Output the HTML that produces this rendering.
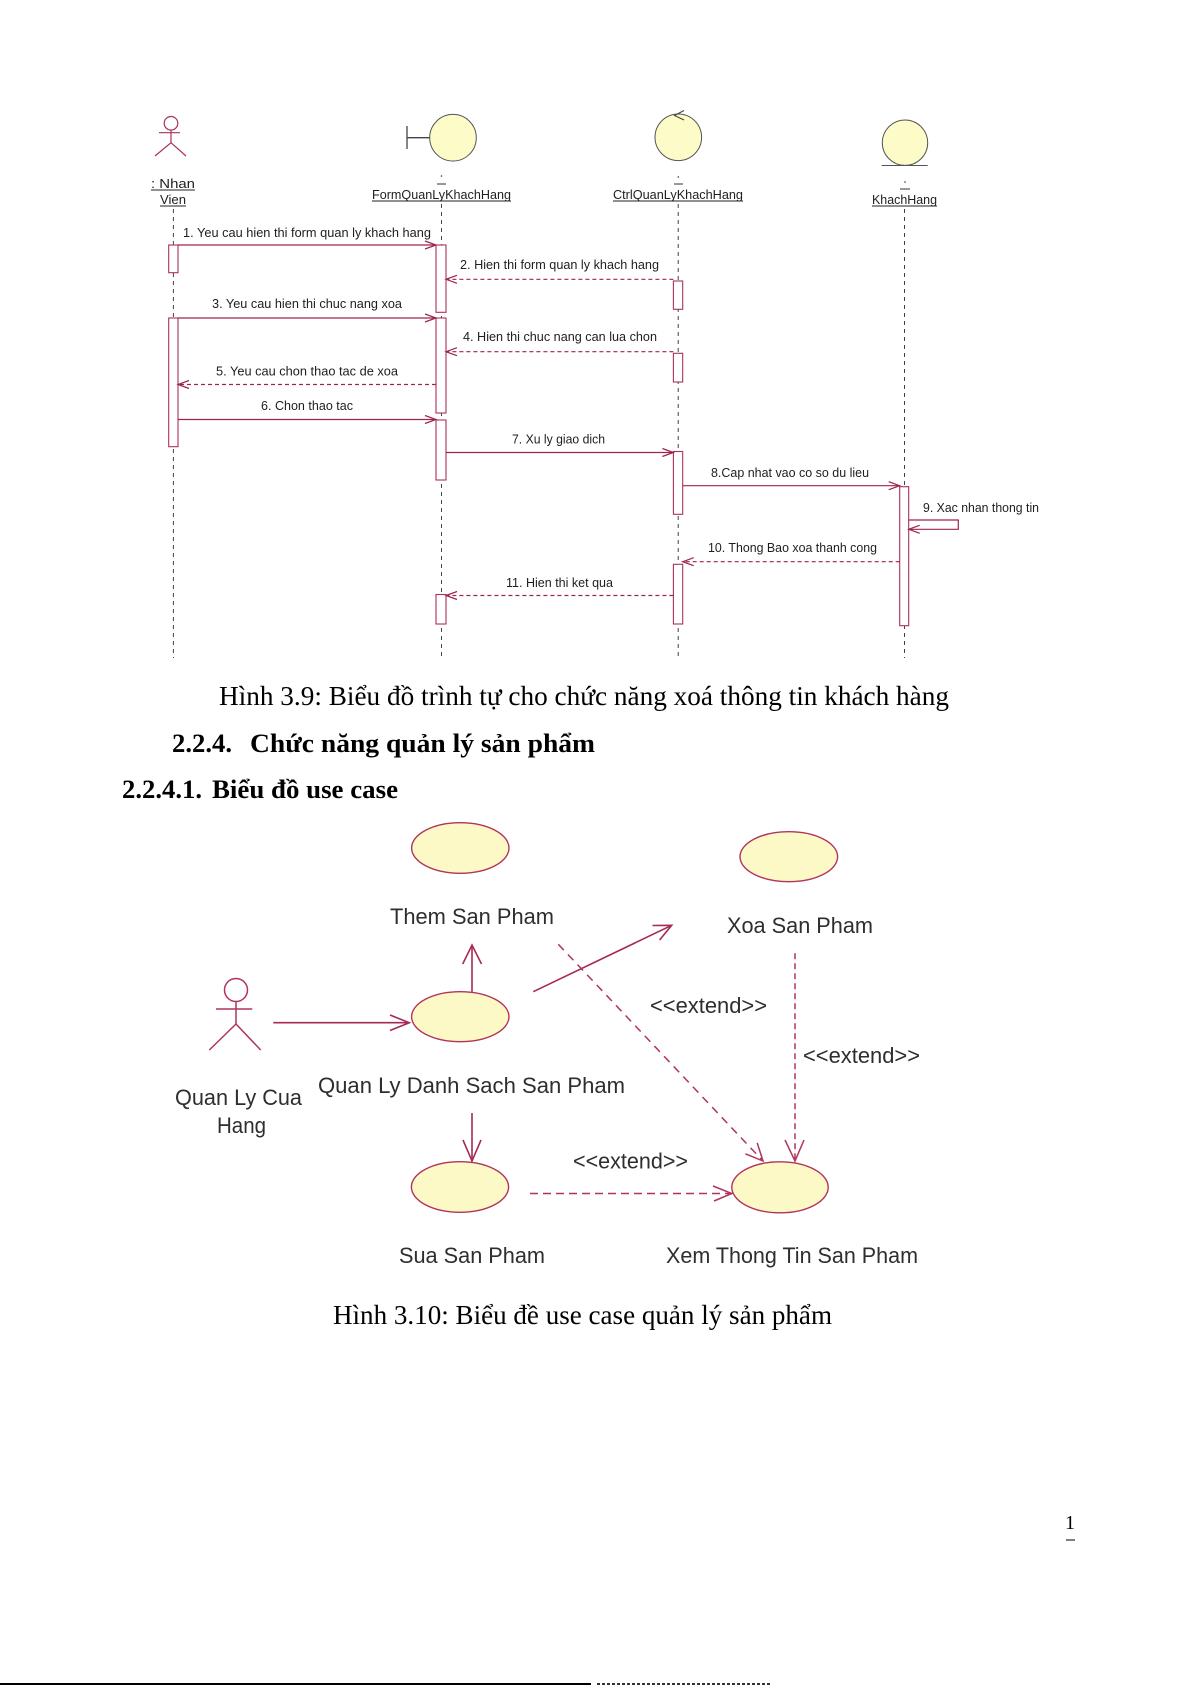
<!DOCTYPE html>
<html>
<head>
<meta charset="utf-8">
<style>
  html, body { margin: 0; padding: 0; background: #ffffff; }
  svg { display: block; }
  .seq { font-family: "Liberation Sans", Arial, sans-serif; font-size: 13px; fill: #1e1e1e; }
  .uc { font-family: "Liberation Sans", Arial, sans-serif; font-size: 22px; fill: #2e2e2e; }
  .serif { font-family: "Liberation Serif", "Times New Roman", serif; fill: #000; }
</style>
</head>
<body>
<svg width="1191" height="1685" viewBox="0 0 1191 1685" xmlns="http://www.w3.org/2000/svg">
  <rect x="0" y="0" width="1191" height="1685" fill="#ffffff"/>

  <!-- ================= SEQUENCE DIAGRAM ================= -->
  <!-- Actor icon -->
  <g stroke="#a8325a" stroke-width="1.2" fill="none">
    <circle cx="171" cy="123.3" r="6.8"/>
    <line x1="171" y1="130.1" x2="171" y2="142.7"/>
    <line x1="159" y1="132.7" x2="180" y2="132.7"/>
    <line x1="171" y1="142.7" x2="155" y2="156"/>
    <line x1="171" y1="142.7" x2="186" y2="156"/>
  </g>
  <text class="seq" x="151" y="188" textLength="44" lengthAdjust="spacingAndGlyphs">: Nhan</text>
  <line x1="151" y1="190" x2="195" y2="190" stroke="#222" stroke-width="1"/>
  <text class="seq" x="160" y="204" textLength="26" lengthAdjust="spacingAndGlyphs">Vien</text>
  <line x1="160" y1="206" x2="186" y2="206" stroke="#222" stroke-width="1"/>

  <!-- Boundary icon -->
  <g stroke="#444" stroke-width="1.3">
    <line x1="407" y1="126" x2="407" y2="149"/>
    <line x1="407" y1="137.7" x2="430" y2="137.7"/>
  </g>
  <circle cx="453" cy="137.7" r="23.3" fill="#fdfcc9" stroke="#555" stroke-width="1"/>
  <circle cx="441.5" cy="176" r="0.8" fill="#333"/>
  <line x1="437" y1="184" x2="446" y2="184" stroke="#333" stroke-width="1"/>
  <text class="seq" x="372" y="199" textLength="139" lengthAdjust="spacingAndGlyphs">FormQuanLyKhachHang</text>
  <line x1="372" y1="201" x2="511" y2="201" stroke="#222" stroke-width="1"/>

  <!-- Control icon -->
  <circle cx="678.3" cy="137.3" r="23.3" fill="#fdfcc9" stroke="#555" stroke-width="1"/>
  <polyline points="684,110.5 674.5,115.5 684,120" fill="none" stroke="#444" stroke-width="1.1"/>
  <circle cx="678.3" cy="177" r="0.8" fill="#333"/>
  <line x1="674" y1="184" x2="683" y2="184" stroke="#333" stroke-width="1"/>
  <text class="seq" x="613" y="199" textLength="130" lengthAdjust="spacingAndGlyphs">CtrlQuanLyKhachHang</text>
  <line x1="613" y1="201" x2="743" y2="201" stroke="#222" stroke-width="1"/>

  <!-- Entity icon -->
  <circle cx="905" cy="142.7" r="22.7" fill="#fdfcc9" stroke="#555" stroke-width="1"/>
  <line x1="881.7" y1="165.5" x2="927.7" y2="165.5" stroke="#555" stroke-width="1"/>
  <circle cx="905" cy="182" r="0.8" fill="#333"/>
  <line x1="900" y1="189" x2="910" y2="189" stroke="#333" stroke-width="1"/>
  <text class="seq" x="872" y="204" textLength="65" lengthAdjust="spacingAndGlyphs">KhachHang</text>
  <line x1="872" y1="206" x2="937" y2="206" stroke="#222" stroke-width="1"/>

  <!-- Lifelines -->
  <g stroke="#444" stroke-width="1" stroke-dasharray="4,4" fill="none">
    <line x1="173.4" y1="209" x2="173.4" y2="658"/>
    <line x1="441.5" y1="204" x2="441.5" y2="658"/>
    <line x1="678.2" y1="204" x2="678.2" y2="658"/>
    <line x1="904.5" y1="209" x2="904.5" y2="658"/>
  </g>

  <!-- Activations -->
  <g fill="#ffffff" stroke="#a8325a" stroke-width="1.1">
    <rect x="168.7" y="245" width="9.3" height="27.7"/>
    <rect x="168.7" y="318" width="9.3" height="128.7"/>
    <rect x="436" y="245" width="10" height="67.3"/>
    <rect x="436" y="318" width="10" height="95"/>
    <rect x="436" y="420" width="10" height="60"/>
    <rect x="436" y="594.5" width="10" height="29.5"/>
    <rect x="673.4" y="281" width="9.3" height="28.3"/>
    <rect x="673.4" y="353.3" width="9.3" height="28.7"/>
    <rect x="673.4" y="451.5" width="9.3" height="62.8"/>
    <rect x="673.4" y="564.3" width="9.3" height="59.7"/>
    <rect x="899.7" y="486.7" width="9" height="139"/>
  </g>

  <!-- Messages -->
  <g stroke="#9e2451" stroke-width="1.2" fill="none">
    <line x1="178" y1="245" x2="436" y2="245"/>
    <polyline points="425,241 436,245 425,249"/>
    <line x1="673.4" y1="279.3" x2="446" y2="279.3" stroke-dasharray="4,3"/>
    <polyline points="457,275.3 446,279.3 457,283.3"/>
    <line x1="178" y1="318" x2="436" y2="318"/>
    <polyline points="425,314 436,318 425,322"/>
    <line x1="673.4" y1="351.7" x2="446" y2="351.7" stroke-dasharray="4,3"/>
    <polyline points="457,347.7 446,351.7 457,355.7"/>
    <line x1="436" y1="384.5" x2="178" y2="384.5" stroke-dasharray="4,3"/>
    <polyline points="189,380.5 178,384.5 189,388.5"/>
    <line x1="178" y1="419.5" x2="436" y2="419.5"/>
    <polyline points="425,415.5 436,419.5 425,423.5"/>
    <line x1="446" y1="452.5" x2="673.4" y2="452.5"/>
    <polyline points="662.4,448.5 673.4,452.5 662.4,456.5"/>
    <line x1="682.7" y1="485.7" x2="899.7" y2="485.7"/>
    <polyline points="888.7,481.7 899.7,485.7 888.7,489.7"/>
    <polyline points="908.7,520 958.3,520 958.3,529.3 908.7,529.3"/>
    <polyline points="919.7,525.3 908.7,529.3 919.7,533.3"/>
    <line x1="899.7" y1="561.7" x2="682.7" y2="561.7" stroke-dasharray="4,3"/>
    <polyline points="693.7,557.7 682.7,561.7 693.7,565.7"/>
    <line x1="673.4" y1="595.5" x2="446" y2="595.5" stroke-dasharray="4,3"/>
    <polyline points="457,591.5 446,595.5 457,599.5"/>
  </g>

  <!-- Message labels -->
  <text class="seq" x="183" y="237" textLength="248" lengthAdjust="spacingAndGlyphs">1. Yeu cau hien thi form quan ly khach hang</text>
  <text class="seq" x="460" y="269" textLength="199" lengthAdjust="spacingAndGlyphs">2. Hien thi form quan ly khach hang</text>
  <text class="seq" x="212" y="308" textLength="190" lengthAdjust="spacingAndGlyphs">3. Yeu cau hien thi chuc nang xoa</text>
  <text class="seq" x="463" y="341" textLength="194" lengthAdjust="spacingAndGlyphs">4. Hien thi chuc nang can lua chon</text>
  <text class="seq" x="216" y="375.5" textLength="182" lengthAdjust="spacingAndGlyphs">5. Yeu cau chon thao tac de xoa</text>
  <text class="seq" x="261" y="410" textLength="92" lengthAdjust="spacingAndGlyphs">6. Chon thao tac</text>
  <text class="seq" x="512" y="443.5" textLength="93" lengthAdjust="spacingAndGlyphs">7. Xu ly giao dich</text>
  <text class="seq" x="711" y="477" textLength="158" lengthAdjust="spacingAndGlyphs">8.Cap nhat vao co so du lieu</text>
  <text class="seq" x="923" y="512" textLength="116" lengthAdjust="spacingAndGlyphs">9. Xac nhan thong tin</text>
  <text class="seq" x="708" y="552" textLength="169" lengthAdjust="spacingAndGlyphs">10. Thong Bao xoa thanh cong</text>
  <text class="seq" x="506" y="587" textLength="107" lengthAdjust="spacingAndGlyphs">11. Hien thi ket qua</text>

  <!-- ================= CAPTION & HEADINGS ================= -->
  <text class="serif" x="219" y="705" font-size="27" textLength="730" lengthAdjust="spacingAndGlyphs">Hình 3.9: Biểu đồ trình tự cho chức năng xoá thông tin khách hàng</text>
  <text class="serif" x="172" y="752" font-size="26" font-weight="bold" textLength="60" lengthAdjust="spacingAndGlyphs">2.2.4.</text>
  <text class="serif" x="250" y="752" font-size="26" font-weight="bold" textLength="345" lengthAdjust="spacingAndGlyphs">Chức năng quản lý sản phẩm</text>
  <text class="serif" x="122" y="798" font-size="26" font-weight="bold" textLength="80" lengthAdjust="spacingAndGlyphs">2.2.4.1.</text>
  <text class="serif" x="212" y="798" font-size="26" font-weight="bold" textLength="186" lengthAdjust="spacingAndGlyphs">Biểu đồ use case</text>

  <!-- ================= USE CASE DIAGRAM ================= -->
  <g fill="#fdf9c6" stroke="#b0345c" stroke-width="1.4">
    <ellipse cx="460.3" cy="848" rx="48.7" ry="25.3"/>
    <ellipse cx="460.3" cy="1016.7" rx="48.7" ry="25"/>
    <ellipse cx="788.8" cy="856.7" rx="48.8" ry="25"/>
    <ellipse cx="460" cy="1187" rx="48.6" ry="25.3"/>
    <ellipse cx="780" cy="1187.3" rx="48.2" ry="25.5"/>
  </g>

  <!-- Actor -->
  <g stroke="#b0345c" stroke-width="1.5" fill="none">
    <circle cx="236" cy="990" r="11.5"/>
    <line x1="236" y1="1001.5" x2="236" y2="1024"/>
    <line x1="216" y1="1009" x2="252.3" y2="1009"/>
    <line x1="236" y1="1024" x2="209.3" y2="1050"/>
    <line x1="236" y1="1024" x2="260.7" y2="1050"/>
  </g>

  <!-- Connectors -->
  <g stroke="#a52a55" stroke-width="1.6" fill="none">
    <line x1="273.3" y1="1022.7" x2="409.3" y2="1022.7"/>
    <polyline points="390,1015 409.3,1022.7 390,1030.5"/>
    <line x1="472" y1="991.7" x2="472" y2="945"/>
    <polyline points="462.7,964 472,945 481.5,964"/>
    <line x1="533.3" y1="991.7" x2="671.7" y2="925.3"/>
    <polyline points="652.5,925.5 671.7,925.3 659.6,940"/>
    <line x1="472" y1="1113" x2="472" y2="1161"/>
    <polyline points="463,1140 472,1161 481,1140"/>
  </g>
  <g stroke="#b0345c" stroke-width="1.5" fill="none">
    <line x1="558.3" y1="944.3" x2="763" y2="1161" stroke-dasharray="8,6"/>
    <polyline points="757.2,1142.9 763,1161 745.4,1153.8"/>
    <line x1="795" y1="953.3" x2="795" y2="1161" stroke-dasharray="6,4"/>
    <polyline points="785,1140 795,1161 804,1140"/>
    <line x1="530" y1="1193.5" x2="731.8" y2="1193.5" stroke-dasharray="8,5"/>
    <polyline points="713,1186 731.8,1193.5 714,1201"/>
  </g>

  <!-- Use case labels -->
  <text class="uc" x="390" y="924" textLength="164" lengthAdjust="spacingAndGlyphs">Them San Pham</text>
  <text class="uc" x="727" y="933" textLength="146" lengthAdjust="spacingAndGlyphs">Xoa San Pham</text>
  <text class="uc" x="318" y="1093" textLength="307" lengthAdjust="spacingAndGlyphs">Quan Ly Danh Sach San Pham</text>
  <text class="uc" x="175" y="1105" textLength="127" lengthAdjust="spacingAndGlyphs">Quan Ly Cua</text>
  <text class="uc" x="217" y="1133" textLength="49" lengthAdjust="spacingAndGlyphs">Hang</text>
  <text class="uc" x="650" y="1013" textLength="117" lengthAdjust="spacingAndGlyphs">&lt;&lt;extend&gt;&gt;</text>
  <text class="uc" x="803" y="1063" textLength="117" lengthAdjust="spacingAndGlyphs">&lt;&lt;extend&gt;&gt;</text>
  <text class="uc" x="573" y="1168.5" textLength="115" lengthAdjust="spacingAndGlyphs">&lt;&lt;extend&gt;&gt;</text>
  <text class="uc" x="399" y="1263" textLength="146" lengthAdjust="spacingAndGlyphs">Sua San Pham</text>
  <text class="uc" x="666" y="1263" textLength="252" lengthAdjust="spacingAndGlyphs">Xem Thong Tin San Pham</text>

  <!-- Caption 2 -->
  <text class="serif" x="333" y="1324" font-size="27" textLength="499" lengthAdjust="spacingAndGlyphs">Hình 3.10: Biểu đề use case quản lý sản phẩm</text>

  <!-- Page number -->
  <text class="serif" x="1065" y="1529" font-size="20">1</text>
  <line x1="1066" y1="1540" x2="1075" y2="1540" stroke="#000" stroke-width="1"/>

  <!-- Bottom rule -->
  <line x1="0" y1="1684" x2="591" y2="1684" stroke="#000" stroke-width="2"/>
  <line x1="597" y1="1684" x2="770" y2="1684" stroke="#333" stroke-width="2" stroke-dasharray="3,2"/>
</svg>
</body>
</html>
